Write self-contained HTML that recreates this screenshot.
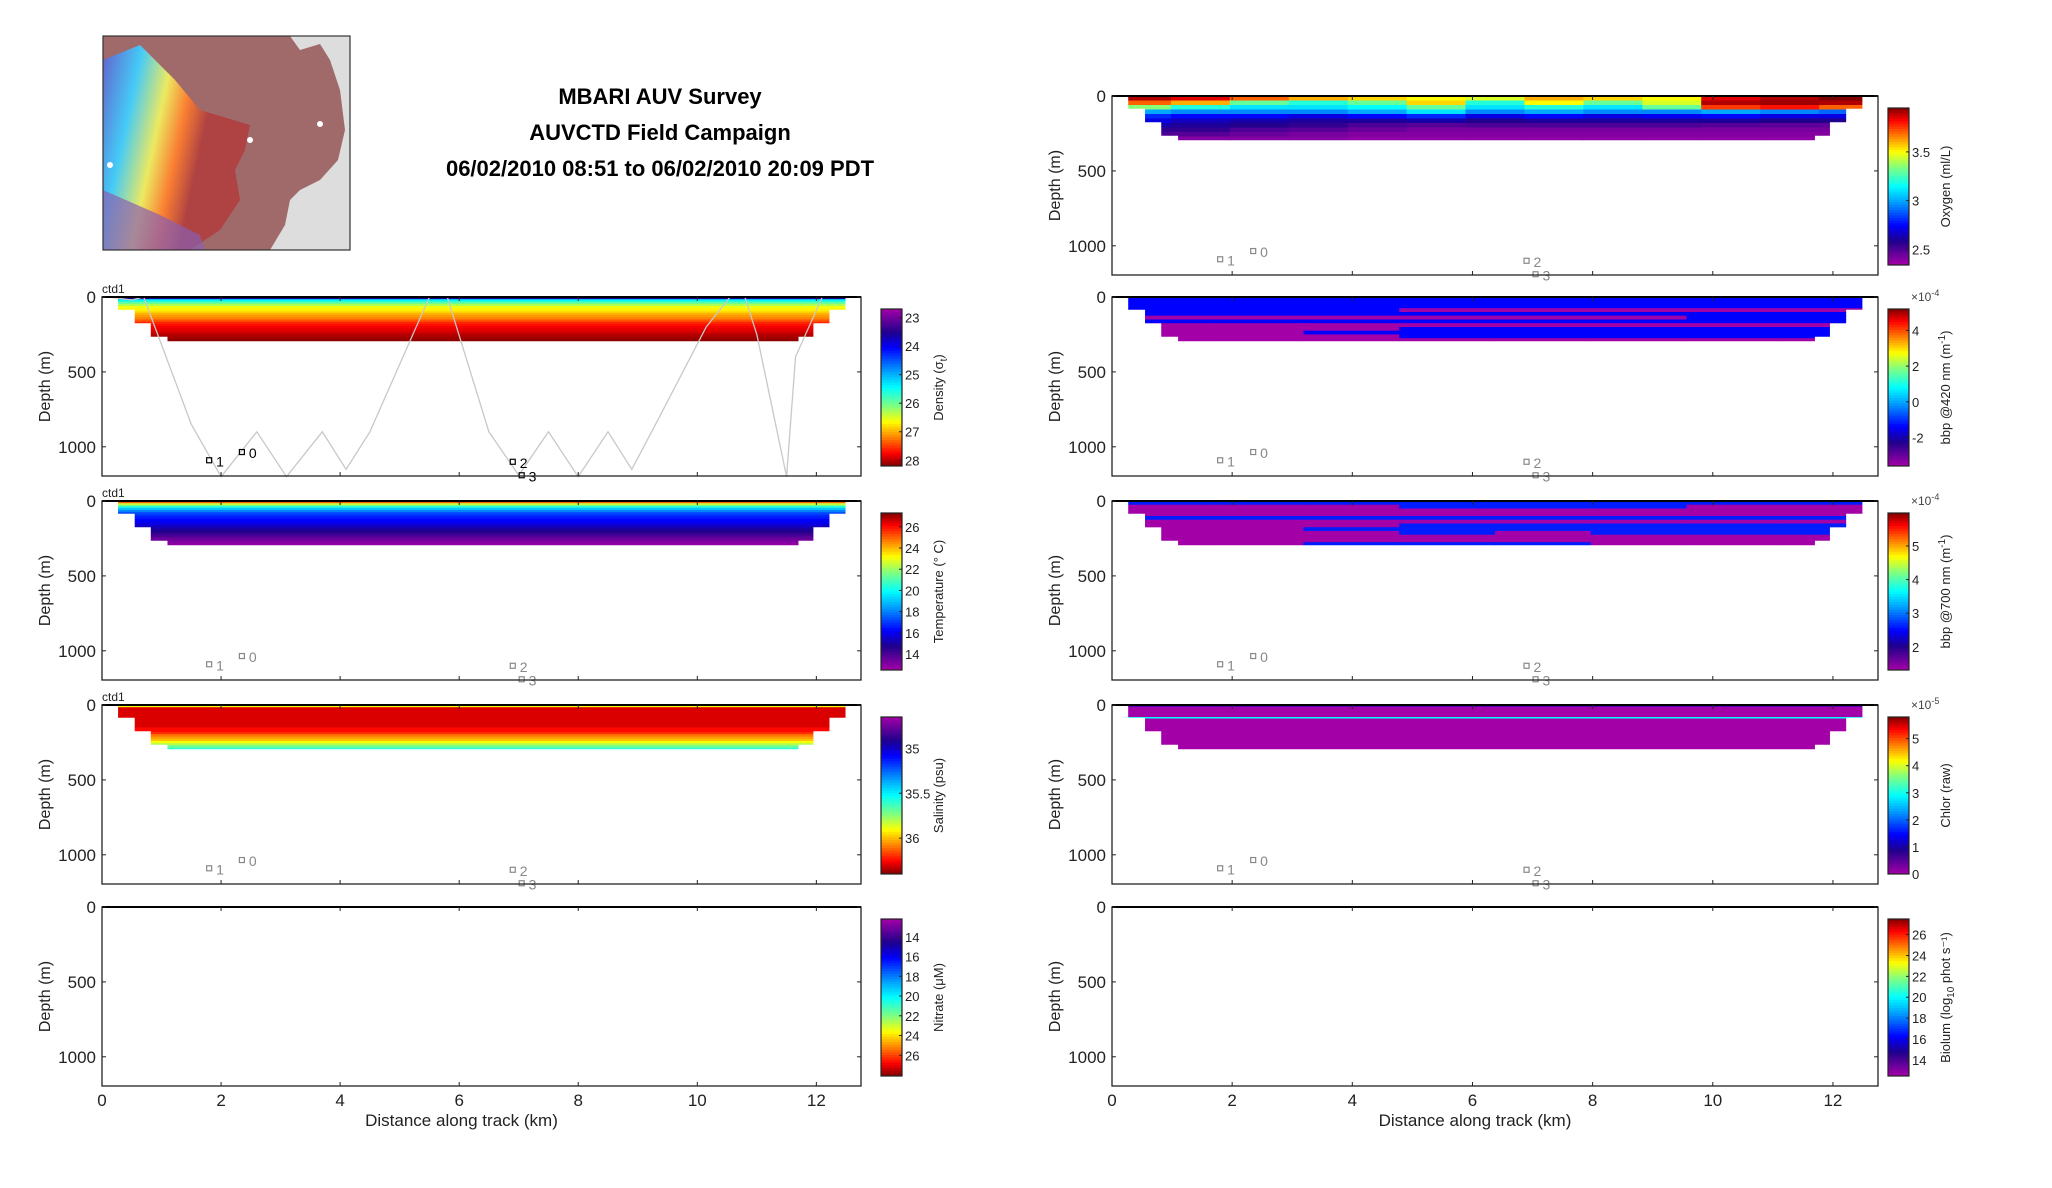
<!DOCTYPE html>
<html><head><meta charset="utf-8"><style>
html,body{margin:0;padding:0;background:#fff;}
svg{display:block;font-family:"Liberation Sans","DejaVu Sans",sans-serif;}
</style></head><body>
<svg id="fig" width="2052" height="1188" viewBox="0 0 2052 1188" xmlns="http://www.w3.org/2000/svg">
<defs>
<linearGradient id="mapg1" x1="0" y1="0" x2="1" y2="0.3">
<stop offset="0" stop-color="#6060d0"/><stop offset="0.25" stop-color="#40d0ff"/><stop offset="0.45" stop-color="#f0f060"/><stop offset="0.6" stop-color="#ff8030"/><stop offset="0.75" stop-color="#b04040"/></linearGradient>
</defs>
<g id="mapg">
<rect x="103" y="36" width="247" height="214" fill="#dddddd"/>
<path d="M103,36 L290,36 L300,50 L320,44 L330,60 L340,90 L345,130 L338,160 L320,180 L300,190 L290,200 L285,225 L270,250 L103,250 Z" fill="#a06a6a"/>
<path d="M103,60 L140,45 L175,80 L200,110 L250,125 L245,150 L235,170 L240,200 L220,230 L190,250 L103,250 Z" fill="url(#mapg1)" opacity="0.95"/>
<path d="M103,190 L160,215 L200,235 L205,250 L103,250 Z" fill="#8a60b0" opacity="0.7"/>
<circle cx="110" cy="165" r="3" fill="#fff"/><circle cx="250" cy="140" r="3" fill="#fff"/><circle cx="320" cy="124" r="3" fill="#fff"/>
<rect x="103" y="36" width="247" height="214" fill="none" stroke="#333" stroke-width="1.2"/>
</g>
<g font-weight="bold" font-size="22" text-anchor="middle" fill="#000">
<text x="660" y="104">MBARI AUV Survey</text>
<text x="660" y="140">AUVCTD Field Campaign</text>
<text x="660" y="176">06/02/2010 08:51 to 06/02/2010 20:09 PDT</text>
</g>
<g id="plots"></g>
</svg>
<script>
// ---- shared data ----
const xTicks = [0, 2, 4, 6, 8, 10, 12];
const yTicks = [0, 500, 1000];
const xMax = 12.75, yMax = 1195;
// coverage of AUV sections: depth breaks and km start/end per depth layer
const coverDepth = [85, 175, 265, 295];
const coverStart = [0.27, 0.55, 0.82, 1.1];
const coverEnd = [12.49, 12.22, 11.95, 11.7];
// yo-yo track (km, m)
const trackKm = [0.1,0.5,0.7,1.5,2.0,2.6,3.1,3.7,4.1,4.5,5.5,5.8,6.5,7.0,7.5,8.0,8.5,8.9,9.3,10.15,10.55,10.8,11.0,11.5,11.65,12.1,12.3];
const trackDm = [0,20,0,850,1200,900,1200,900,1150,900,0,0,900,1190,900,1200,900,1150,850,200,0,0,250,1200,400,0,0];
// station markers
const mkLabel = ['1','0','2','3'];
const mkKm = [1.8, 2.35, 6.9, 7.05];
const mkDm = [1090, 1035, 1100, 1190];

// profile data per panel (depth bins)
const densityVals = [23.6,25.4,25.9,26.3,26.6,26.7,26.8,27.0,27.1,27.2,27.4,27.6,27.7,27.8,27.85,27.9,28.0,28.05,28.1,28.15];
const tempVals = [25,22.5,20.5,19,18,17.2,16.8,16.5,16.2,16,15.7,15.3,15,14.7,14.4,14,13.6,13.3,13,12.8];
const salVals = [35.9,36.3,36.3,36.3,36.3,36.3,36.3,36.3,36.3,36.3,36.25,36.25,36.2,36.1,36.05,36.0,35.9,35.8,35.7,35.6];
// oxygen: 10 rows (30 m) x 13 columns (~1 km)
const oxyVals = [
 [3.9,3.85,3.7,3.6,3.55,3.5,3.45,3.6,3.55,3.5,3.85,3.9,3.95],
 [3.7,3.6,3.3,3.2,3.3,3.55,3.2,3.5,3.3,3.45,3.9,3.92,3.9],
 [3.35,3.2,3.1,3.1,3.15,3.3,3.1,3.2,3.1,3.3,3.75,3.8,3.7],
 [3.0,2.95,2.95,2.95,3.0,3.1,2.95,3.0,2.95,2.95,3.0,2.95,2.9],
 [2.8,2.75,2.75,2.7,2.75,2.8,2.7,2.75,2.7,2.72,2.75,2.7,2.7],
 [2.7,2.65,2.62,2.6,2.6,2.62,2.58,2.6,2.6,2.6,2.6,2.58,2.58],
 [2.62,2.6,2.58,2.55,2.5,2.48,2.5,2.5,2.5,2.5,2.48,2.47,2.46],
 [2.55,2.55,2.5,2.48,2.45,2.42,2.42,2.42,2.42,2.42,2.42,2.42,2.42],
 [2.5,2.48,2.45,2.42,2.4,2.4,2.4,2.4,2.4,2.4,2.4,2.4,2.4],
 [2.42,2.4,2.4,2.4,2.38,2.38,2.38,2.38,2.38,2.38,2.38,2.38,2.38]];
// bbp420: 12 rows (25 m) x 8 columns
const bbp420Vals = [
 [-1.4,-1.4,-1.4,-1.4,-1.4,-1.4,-1.4,-1.4],
 [-1.4,-1.4,-1.4,-1.4,-1.4,-1.4,-1.4,-1.4],
 [-1.4,-1.4,-1.4,-1.4,-1.4,-1.4,-1.4,-1.4],
 [-1.4,-1.4,-1.4,-3.6,-3.6,-3.6,-3.6,-3.6],
 [-1.4,-1.4,-1.4,-1.4,-1.4,-1.4,-1.4,-1.4],
 [-3.6,-3.6,-3.6,-3.6,-3.6,-3.6,-1.4,-1.4],
 [-1.4,-1.4,-1.4,-1.4,-1.4,-1.4,-1.4,-1.4],
 [-3.6,-3.6,-3.6,-3.6,-3.6,-3.6,-3.6,-3.6],
 [-3.6,-3.6,-3.6,-1.4,-1.4,-1.4,-1.4,-1.4],
 [-3.6,-3.6,-1.4,-1.4,-1.4,-1.4,-1.4,-1.4],
 [-3.6,-3.6,-3.6,-1.4,-1.4,-1.4,-1.4,-1.4],
 [-3.6,-3.6,-3.6,-3.6,-3.6,-3.6,-3.6,-3.6]];
// bbp700: 12 rows (25 m) x 8 columns
const bbp700Vals = [
 [2.6,2.6,2.6,2.6,2.6,2.6,2.6,2.6],
 [1.3,1.3,1.3,2.6,2.6,2.6,1.3,1.3],
 [1.3,1.3,1.3,1.3,1.3,1.3,1.3,1.3],
 [1.3,1.3,1.3,1.3,1.3,1.3,1.3,1.3],
 [2.6,2.6,2.6,2.6,2.6,2.6,2.6,2.6],
 [1.3,1.3,1.3,1.3,1.3,1.3,1.3,1.3],
 [1.3,1.3,1.3,2.6,2.6,2.6,2.6,2.6],
 [1.3,1.3,2.6,2.6,2.6,2.6,2.6,2.6],
 [1.3,1.3,1.3,2.6,1.3,2.6,2.6,2.6],
 [1.3,1.3,1.3,1.3,1.3,1.3,1.3,1.3],
 [1.3,1.3,1.3,1.3,1.3,1.3,1.3,1.3],
 [1.3,1.3,2.6,2.6,2.6,1.3,1.3,1.3]];
// chlorophyll: 30 rows (10 m)
const chlVals = [1.2,0,0,0,0,0,0,0,2.9,0,0,0,0,0,0,0,0,0,0,0,0,0,0,0,0,0,0,0,0,0];

// colorbar tick labels
const densTicks = [23,24,25,26,27,28];
const tempTicks = [14,16,18,20,22,24,26];
const salTicks = [35,35.5,36];
const nitTicks = [14,16,18,20,22,24,26];
const oxyTicks = [2.5,3,3.5];
const b420Ticks = [-2,0,2,4];
const b700Ticks = [2,3,4,5];
const chlTicks = [0,1,2,3,4,5];
const bioTicks = [14,16,18,20,22,24,26];

const stops = [[0,[164,0,168]],[0.15,[32,0,140]],[0.25,[0,0,255]],[0.4,[0,160,255]],[0.5,[0,255,255]],[0.62,[128,255,128]],[0.72,[255,255,0]],[0.82,[255,128,0]],[0.92,[255,0,0]],[1,[128,0,0]]];
function cmap(f){f=Math.max(0,Math.min(1,f));for(let i=1;i<stops.length;i++){if(f<=stops[i][0]){const a=stops[i-1],b=stops[i];const t=(f-a[0])/(b[0]-a[0]);const c=a[1].map((v,k)=>Math.round(v+(b[1][k]-v)*t));return `rgb(${c[0]},${c[1]},${c[2]})`;}}return 'rgb(128,0,0)';}

const NS='http://www.w3.org/2000/svg';
const root=document.getElementById('plots');
function mk(tag,attrs,parent){const e=document.createElementNS(NS,tag);for(const k in attrs)e.setAttribute(k,attrs[k]);(parent||root).appendChild(e);return e;}

const panels=[
 {id:'density',x:102,y:297,w:759,h:179,cb:'Density (σ',sub:'t',suffix:')',lo:22.7,hi:28.2,loTop:true,ticks:densTicks,vals:densityVals,dz:15,cols:1,ctd:true,track:true,mk:'#000',xl:false},
 {id:'temperature',x:102,y:501,w:759,h:179,cb:'Temperature (° C)',lo:12.5,hi:27.3,loTop:false,ticks:tempTicks,vals:tempVals,dz:15,cols:1,ctd:true,mk:'#888',xl:false},
 {id:'salinity',x:102,y:705,w:759,h:179,cb:'Salinity (psu)',lo:34.65,hi:36.4,loTop:true,ticks:salTicks,vals:salVals,dz:15,cols:1,ctd:true,mk:'#888',xl:false},
 {id:'nitrate',x:102,y:907,w:759,h:179,cb:'Nitrate (μM)',lo:12.2,hi:28.1,loTop:true,ticks:nitTicks,vals:null,xl:true},
 {id:'oxygen',x:1112,y:96,w:766,h:179,cb:'Oxygen (ml/L)',lo:2.34,hi:3.95,loTop:false,ticks:oxyTicks,vals:oxyVals,dz:30,cols:13,mk:'#888',xl:false},
 {id:'bbp420',x:1112,y:297,w:766,h:179,cb:'bbp @420 nm (m',sup:'-1',suffix:')',lo:-3.6,hi:5.2,loTop:false,ticks:b420Ticks,vals:bbp420Vals,dz:25,cols:8,mk:'#888',exp:'-4',xl:false},
 {id:'bbp700',x:1112,y:501,w:766,h:179,cb:'bbp @700 nm (m',sup:'-1',suffix:')',lo:1.31,hi:5.98,loTop:false,ticks:b700Ticks,vals:bbp700Vals,dz:25,cols:8,mk:'#888',exp:'-4',xl:false},
 {id:'chlor',x:1112,y:705,w:766,h:179,cb:'Chlor (raw)',lo:0,hi:5.8,loTop:false,ticks:chlTicks,vals:chlVals,dz:10,cols:1,mk:'#888',exp:'-5',xl:false},
 {id:'biolum',x:1112,y:907,w:766,h:179,cb:'Biolum (log',sub:'10',suffix:' phot s⁻¹)',lo:12.45,hi:27.5,loTop:false,ticks:bioTicks,vals:null,xl:true}
];

panels.forEach((p,pi)=>{
 const X=km=>p.x+km*p.w/xMax, Y=d=>p.y+d*p.h/yMax;
 const g=mk('g',{});
 
 
 const cp=mk('clipPath',{id:'clip'+pi},g);
 let pts=[];
 coverDepth.forEach((d,i)=>{const d0=i?coverDepth[i-1]:0;pts.push([X(coverStart[i]),Y(d0)],[X(coverStart[i]),Y(d)]);});
 for(let i=coverDepth.length-1;i>=0;i--){const d0=i?coverDepth[i-1]:0;pts.push([X(coverEnd[i]),Y(coverDepth[i])],[X(coverEnd[i]),Y(d0)]);}
 mk('polygon',{points:pts.map(q=>q.join(',')).join(' ')},cp);
 if(p.vals){
  const dg=mk('g',{'clip-path':`url(#clip${pi})`},g);
  
  
  const rows=p.cols===1?p.vals.map(v=>[v]):p.vals;
  const dx=xMax/p.cols;
  rows.forEach((row,r)=>row.forEach((v,c)=>{
   const x0=c*dx, x1=(c+1)*dx;
   const rc=mk('rect',{x:X(x0).toFixed(1),y:Y(r*p.dz).toFixed(1),width:(X(x1)-X(x0)+0.6).toFixed(1),height:(Y((r+1)*p.dz)-Y(r*p.dz)+0.6).toFixed(1),fill:cmap((v-p.lo)/(p.hi-p.lo))},dg);
   
   
  }));
 }
 if(p.track){
  const tl=mk('polyline',{points:trackKm.map((k,i)=>X(k).toFixed(1)+','+Y(trackDm[i]).toFixed(1)).join(' '),fill:'none',stroke:'#c8c8c8','stroke-width':1.3},g);
  
  
 }
 if(p.mk){
  mkLabel.forEach((l,i)=>{
   const s=mk('rect',{x:X(mkKm[i])-2.5,y:Y(mkDm[i])-2.5,width:5,height:5,fill:'none',stroke:p.mk,'stroke-width':1.2},g);
   
   
   const t=mk('text',{x:X(mkKm[i])+7,y:Y(mkDm[i])+6,'font-size':14,fill:p.mk},g);t.textContent=l;
   
   
  });
 }
 const bx=mk('rect',{x:p.x,y:p.y,width:p.w,height:p.h,fill:'none',stroke:'#222','stroke-width':1.3},g);
 
 
 mk('line',{x1:p.x,y1:p.y,x2:p.x+p.w,y2:p.y,stroke:'#000','stroke-width':2},g);
 xTicks.forEach(k=>{
  mk('line',{x1:X(k),y1:p.y,x2:X(k),y2:p.y+4,stroke:'#222'},g);
  mk('line',{x1:X(k),y1:p.y+p.h,x2:X(k),y2:p.y+p.h-4,stroke:'#222'},g);
  if(p.xl){const t=mk('text',{x:X(k),y:p.y+p.h+20,'font-size':17,'text-anchor':'middle',fill:'#222'},g);t.textContent=k;
   
   }
 });
 yTicks.forEach(d=>{
  mk('line',{x1:p.x,y1:Y(d),x2:p.x+4,y2:Y(d),stroke:'#222'},g);
  mk('line',{x1:p.x+p.w,y1:Y(d),x2:p.x+p.w-4,y2:Y(d),stroke:'#222'},g);
  const t=mk('text',{x:p.x-6,y:Y(d)+6,'font-size':17,'text-anchor':'end',fill:'#222'},g);t.textContent=d;
  
  
 });
 const yl=mk('text',{x:0,y:0,'font-size':16,'text-anchor':'middle',fill:'#222',transform:`translate(${p.x-52},${p.y+p.h/2}) rotate(-90)`},g);yl.textContent='Depth (m)';
 
 
 if(p.xl){const t=mk('text',{x:p.x+p.w/2-20,y:p.y+p.h+40,'font-size':17,'text-anchor':'middle',fill:'#222'},g);t.textContent='Distance along track (km)';
  
  }
 if(p.ctd){const t=mk('text',{x:p.x,y:p.y-4,'font-size':12,fill:'#222'},g);t.textContent='ctd1';
  
  }
 const cx=p.x+p.w+(pi<4?20:10), cy=p.y+12, cw=21, ch=p.h-22;
 const cg=mk('g',{},g);
 
 
 const N=60;
 for(let i=0;i<N;i++){
  const f=p.loTop?(i+0.5)/N:1-(i+0.5)/N;
  mk('rect',{x:cx,y:cy+i*ch/N,width:cw,height:ch/N+0.5,fill:cmap(f)},cg);
 }
 mk('rect',{x:cx,y:cy,width:cw,height:ch,fill:'none',stroke:'#222','stroke-width':1.2},cg);
 p.ticks.forEach(v=>{
  const f=(v-p.lo)/(p.hi-p.lo); const yy=p.loTop?cy+f*ch:cy+(1-f)*ch;
  mk('line',{x1:cx+cw-3,y1:yy,x2:cx+cw,y2:yy,stroke:'#222'},cg);
  const t=mk('text',{x:cx+cw+3,y:yy+5,'font-size':13,fill:'#222'},cg);t.textContent=v;
  
  
 });
 if(p.exp){const t=mk('text',{x:cx+cw+2,y:cy-8,'font-size':12,fill:'#444'},cg);t.textContent='×10';const s=mk('tspan',{dy:-5,'font-size':9},t);s.textContent=p.exp;
  
  }
 const lt=mk('text',{x:0,y:0,'font-size':13,'text-anchor':'middle',fill:'#222',transform:`translate(${cx+cw+41},${cy+ch/2}) rotate(-90)`},cg);
 lt.textContent=p.cb;
 if(p.sub){const s=mk('tspan',{dy:4,'font-size':10},lt);s.textContent=p.sub;const s2=mk('tspan',{dy:-4},lt);s2.textContent=p.suffix;}
 if(p.sup){const s=mk('tspan',{dy:-5,'font-size':10},lt);s.textContent=p.sup;const s2=mk('tspan',{dy:5},lt);s2.textContent=p.suffix;}
 
 
});
</script>
</body></html>
